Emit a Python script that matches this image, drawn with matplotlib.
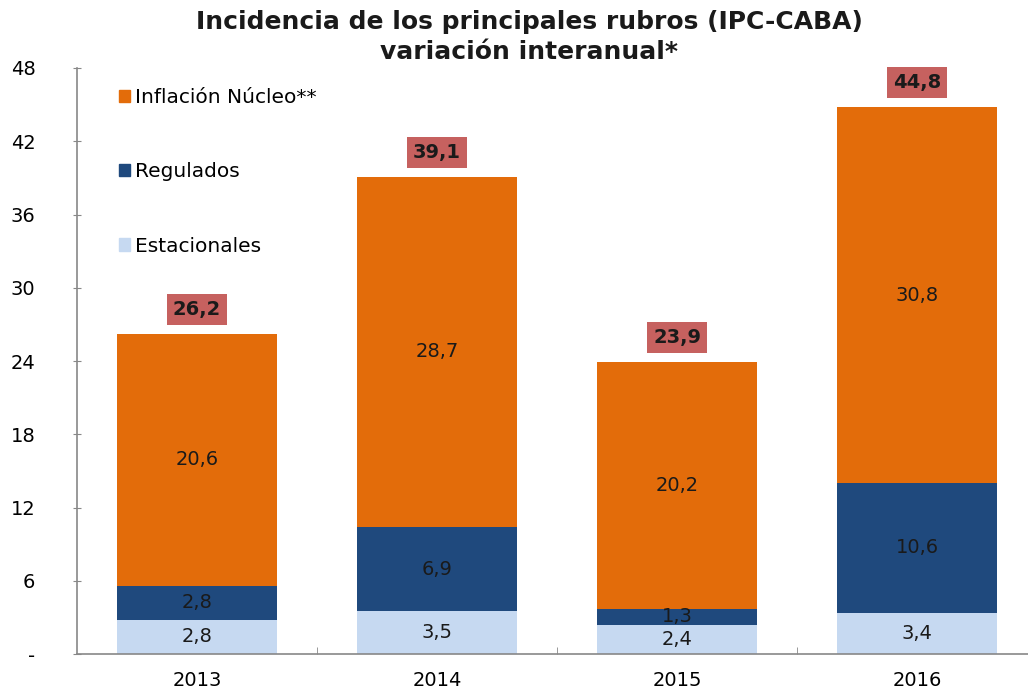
import matplotlib.pyplot as plt
from matplotlib.patches import Patch

plt.rcParams["font.family"] = ["DejaVu Sans"]

years = ["2013", "2014", "2015", "2016"]
estacionales = [2.8, 3.5, 2.4, 3.4]
regulados = [2.8, 6.9, 1.3, 10.6]
nucleo = [20.6, 28.7, 20.2, 30.8]
totales = [26.2, 39.1, 23.9, 44.8]
y_ticks = [0, 6, 12, 18, 24, 30, 36, 42, 48]
y_tick_labels = ["-", "6", "12", "18", "24", "30", "36", "42", "48"]

c_est = "#C6D9F1"
c_reg = "#1F497D"
c_nuc = "#E36C0A"
c_box = "#C0504D"
txt = "#1a1a1a"
fs = 14

fig = plt.figure(figsize=(10.28, 6.96), dpi=100)
ax = fig.add_axes([0.0749, 0.0603, 0.934, 0.842])

x = list(range(len(years)))
w = 0.667
ax.bar(x, estacionales, w, color=c_est)
bottom2 = estacionales
ax.bar(x, regulados, w, bottom=bottom2, color=c_reg)
bottom3 = [a + b for a, b in zip(estacionales, regulados)]
ax.bar(x, nucleo, w, bottom=bottom3, color=c_nuc)

for i in x:
    ax.text(i, estacionales[i] / 2, f"{estacionales[i]:.1f}".replace(".", ","),
            ha="center", va="center", fontsize=fs, color=txt)
    ax.text(i, bottom2[i] + regulados[i] / 2, f"{regulados[i]:.1f}".replace(".", ","),
            ha="center", va="center", fontsize=fs, color=txt)
    ax.text(i, bottom3[i] + nucleo[i] / 2, f"{nucleo[i]:.1f}".replace(".", ","),
            ha="center", va="center", fontsize=fs, color=txt)
    ax.text(i, totales[i] + 2.0, f"{totales[i]:.1f}".replace(".", ","),
            ha="center", va="center", fontsize=fs, fontweight="bold", color=txt,
            bbox=dict(boxstyle="square,pad=0.3", facecolor=c_box, edgecolor="none", alpha=0.9))

ax.set_xlim(-0.5, 3.5)
ax.set_ylim(0, 48)
ax.set_xticks(x)
ax.set_xticklabels(years, fontsize=fs)
ax.set_xticks([0.5, 1.5, 2.5], minor=True)
ax.set_yticks(y_ticks)
ax.set_yticklabels(y_tick_labels, fontsize=fs)
ax.tick_params(axis="x", which="major", length=0, pad=12)
ax.tick_params(axis="x", which="minor", length=5, direction="in", color="#888888")
ax.tick_params(axis="y", length=6, direction="inout", color="#888888", pad=27)
for s in ["top", "right"]:
    ax.spines[s].set_visible(False)
for s in ["left", "bottom"]:
    ax.spines[s].set_color("#888888")
    ax.spines[s].set_linewidth(1.2)

handles = [Patch(color=c_nuc), Patch(color=c_reg), Patch(color=c_est)]
labels = ["Inflación Núcleo**", "Regulados", "Estacionales"]
ax.legend(handles, labels, loc="upper left", bbox_to_anchor=(0.025, 0.997), frameon=False,
          fontsize=14.5, labelspacing=2.75, handlelength=0.55, handleheight=0.55, handletextpad=0.25)

fig.text(0.515, 0.968, "Incidencia de los principales rubros (IPC-CABA)", ha="center", va="center",
         fontsize=18, fontweight="bold", color=txt)
fig.text(0.515, 0.925, "variación interanual*", ha="center", va="center",
         fontsize=18, fontweight="bold", color=txt)

fig.savefig("out.png", dpi=100)
